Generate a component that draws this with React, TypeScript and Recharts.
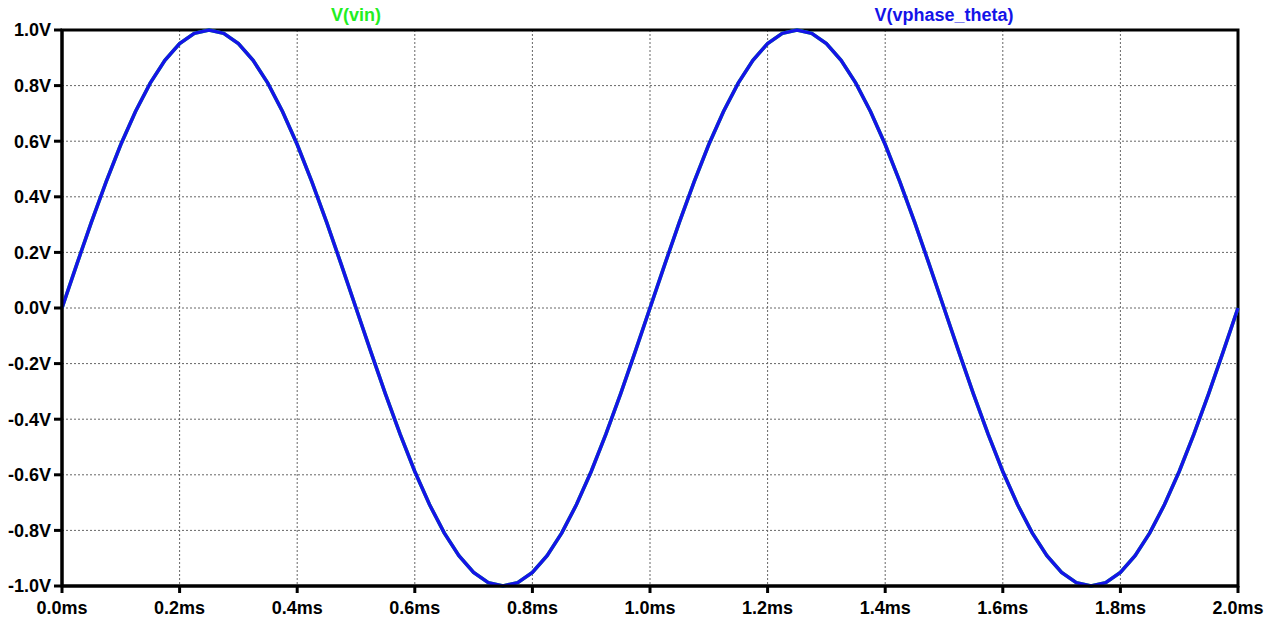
import React from 'react';
import {
    LineChart, Line, XAxis, YAxis, CartesianGrid, ReferenceArea
} from 'recharts';

const timeMs = [
    0, 0.025, 0.05, 0.075, 0.1, 0.125, 0.15, 0.175, 0.2, 0.225,
    0.25, 0.275, 0.3, 0.325, 0.35, 0.375, 0.4, 0.425, 0.45, 0.475,
    0.5, 0.525, 0.55, 0.575, 0.6, 0.625, 0.65, 0.675, 0.7, 0.725,
    0.75, 0.775, 0.8, 0.825, 0.85, 0.875, 0.9, 0.925, 0.95, 0.975,
    1.0, 1.025, 1.05, 1.075, 1.1, 1.125, 1.15, 1.175, 1.2, 1.225,
    1.25, 1.275, 1.3, 1.325, 1.35, 1.375, 1.4, 1.425, 1.45, 1.475,
    1.5, 1.525, 1.55, 1.575, 1.6, 1.625, 1.65, 1.675, 1.7, 1.725,
    1.75, 1.775, 1.8, 1.825, 1.85, 1.875, 1.9, 1.925, 1.95, 1.975, 2.0
];

const vin = [
    0, 0.156, 0.309, 0.454, 0.588, 0.707, 0.809, 0.891, 0.951, 0.988,
    1.0, 0.988, 0.951, 0.891, 0.809, 0.707, 0.588, 0.454, 0.309, 0.156,
    0, -0.156, -0.309, -0.454, -0.588, -0.707, -0.809, -0.891, -0.951, -0.988,
    -1.0, -0.988, -0.951, -0.891, -0.809, -0.707, -0.588, -0.454, -0.309, -0.156,
    0, 0.156, 0.309, 0.454, 0.588, 0.707, 0.809, 0.891, 0.951, 0.988,
    1.0, 0.988, 0.951, 0.891, 0.809, 0.707, 0.588, 0.454, 0.309, 0.156,
    0, -0.156, -0.309, -0.454, -0.588, -0.707, -0.809, -0.891, -0.951, -0.988,
    -1.0, -0.988, -0.951, -0.891, -0.809, -0.707, -0.588, -0.454, -0.309, -0.156, 0
];

const vphaseTheta = [
    0, 0.156, 0.309, 0.454, 0.588, 0.707, 0.809, 0.891, 0.951, 0.988,
    1.0, 0.988, 0.951, 0.891, 0.809, 0.707, 0.588, 0.454, 0.309, 0.156,
    0, -0.156, -0.309, -0.454, -0.588, -0.707, -0.809, -0.891, -0.951, -0.988,
    -1.0, -0.988, -0.951, -0.891, -0.809, -0.707, -0.588, -0.454, -0.309, -0.156,
    0, 0.156, 0.309, 0.454, 0.588, 0.707, 0.809, 0.891, 0.951, 0.988,
    1.0, 0.988, 0.951, 0.891, 0.809, 0.707, 0.588, 0.454, 0.309, 0.156,
    0, -0.156, -0.309, -0.454, -0.588, -0.707, -0.809, -0.891, -0.951, -0.988,
    -1.0, -0.988, -0.951, -0.891, -0.809, -0.707, -0.588, -0.454, -0.309, -0.156, 0
];

const xTicks = [0, 0.2, 0.4, 0.6, 0.8, 1.0, 1.2, 1.4, 1.6, 1.8, 2.0];
const yTicks = [-1.0, -0.8, -0.6, -0.4, -0.2, 0, 0.2, 0.4, 0.6, 0.8, 1.0];

const traces = [
    { key: 'vin', name: 'V(vin)', color: '#22ee22' },
    { key: 'vphase', name: 'V(vphase_theta)', color: '#1414e8' },
];

const W = 1273;
const H = 620;
const M = { top: 30, right: 35, bottom: 0, left: 0 };
const Y_AXIS_W = 62;
const X_AXIS_H = 34;

const FONT = '"Liberation Sans", Arial, sans-serif';
const tickStyle = { fill: '#000', fontSize: 18, fontWeight: 700, fontFamily: FONT };

export default function App() {
    const data = timeMs.map((t, i) => ({ t, vin: vin[i], vphase: vphaseTheta[i] }));

    const plotLeft = M.left + Y_AXIS_W;
    const plotWidth = W - M.right - plotLeft;

    return (
        <div style={{ position: 'absolute', left: 0, top: 0, width: W, height: H, background: '#fff' }}>
            <LineChart width={W} height={H} data={data} margin={M}>
                <CartesianGrid stroke="#666" strokeDasharray="2 2" strokeWidth={1} />
                <XAxis
                    dataKey="t"
                    type="number"
                    domain={[0, 2]}
                    ticks={xTicks}
                    height={X_AXIS_H}
                    tickFormatter={(v: number) => `${v.toFixed(1)}ms`}
                    axisLine={{ stroke: '#000', strokeWidth: 3 }}
                    tickLine={{ stroke: '#000', strokeWidth: 3 }}
                    tickSize={7}
                    tickMargin={8}
                    tick={tickStyle}
                    interval={0}
                />
                <YAxis
                    type="number"
                    domain={[-1, 1]}
                    ticks={yTicks}
                    width={Y_AXIS_W}
                    tickFormatter={(v: number) => `${v.toFixed(1)}V`}
                    axisLine={{ stroke: '#000', strokeWidth: 3 }}
                    tickLine={{ stroke: '#000', strokeWidth: 3 }}
                    tickSize={8}
                    tickMargin={3}
                    tick={tickStyle}
                    interval={0}
                />
                <ReferenceArea x1={0} x2={2} y1={-1} y2={1} fill="none" stroke="#000" strokeWidth={3} ifOverflow="visible" />
                {traces.map(tr => (
                    <Line
                        key={tr.key}
                        dataKey={tr.key}
                        name={tr.name}
                        type="linear"
                        stroke={tr.color}
                        strokeWidth={3.5}
                        dot={false}
                        isAnimationActive={false}
                    />
                ))}
            </LineChart>
            {/* trace names across the top, LTspice style */}
            {traces.map((tr, i) => (
                <div
                    key={tr.key}
                    style={{
                        position: 'absolute',
                        top: 5,
                        left: plotLeft + plotWidth * (i + 0.5) / traces.length - 150,
                        width: 300,
                        textAlign: 'center',
                        color: tr.color,
                        fontFamily: FONT,
                        fontWeight: 700,
                        fontSize: 18,
                        lineHeight: '20px',
                    }}
                >
                    {tr.name}
                </div>
            ))}
        </div>
    );
}
